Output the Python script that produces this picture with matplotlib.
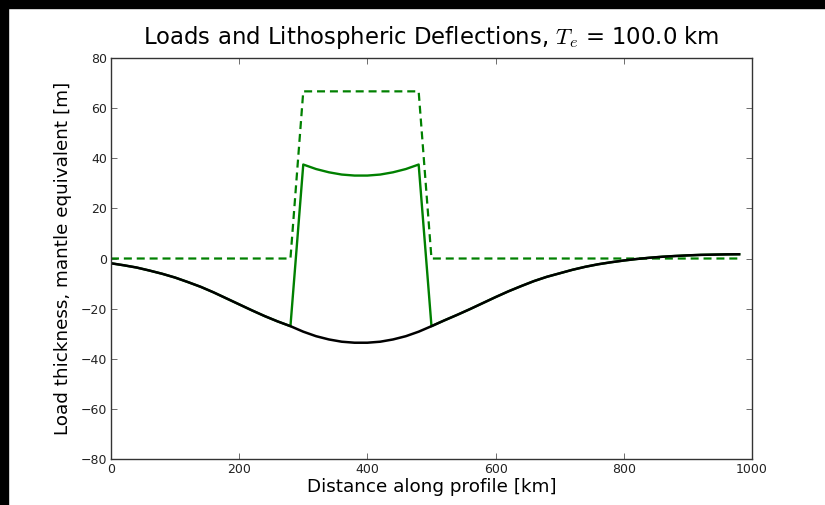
import numpy as np
import matplotlib
matplotlib.use("Agg")
import matplotlib.pyplot as plt
from matplotlib.patches import Rectangle

plt.rcParams['mathtext.fontset'] = 'cm'

# distance along profile [km]
distance = [0, 20, 40, 60, 80, 100, 120, 140, 160, 180,
            200, 220, 240, 260, 280, 300, 320, 340, 360, 380,
            400, 420, 440, 460, 480, 500, 520, 540, 560, 580,
            600, 620, 640, 660, 680, 700, 720, 740, 760, 780,
            800, 820, 840, 860, 880, 900, 920, 940, 960, 980]

# load thickness, mantle equivalent [m]
load = [0, 0, 0, 0, 0, 0, 0, 0, 0, 0,
        0, 0, 0, 0, 0, 66.7, 66.7, 66.7, 66.7, 66.7,
        66.7, 66.7, 66.7, 66.7, 66.7, 0, 0, 0, 0, 0,
        0, 0, 0, 0, 0, 0, 0, 0, 0, 0,
        0, 0, 0, 0, 0, 0, 0, 0, 0, 0]

# lithospheric deflection [m]
deflection = [-1.9, -2.7, -3.6, -4.8, -6.1, -7.6, -9.4, -11.3, -13.5, -15.9,
              -18.3, -20.7, -23.0, -25.1, -27.0, -29.2, -31.0, -32.3, -33.2, -33.6,
              -33.6, -33.2, -32.3, -31.0, -29.2, -27.0, -24.7, -22.5, -20.2, -17.8,
              -15.4, -13.1, -11.0, -9.0, -7.3, -5.9, -4.5, -3.3, -2.3, -1.5,
              -0.8, -0.2, 0.3, 0.7, 1.0, 1.25, 1.45, 1.55, 1.65, 1.7]

x = np.array(distance)
h = np.array(load)
w = np.array(deflection)

fig = plt.figure(figsize=(8.25, 5.05), dpi=100)
ax = fig.add_axes([0.1345, 0.0911, 0.777, 0.794])

ax.plot(x, h, color='g', lw=1.6, ls=(0, (3.6, 2.2)))
ax.plot(x, h + w, color='g', lw=1.7)
ax.plot(x, w, color='k', lw=1.8)

ax.set_xlim(0, 1000)
ax.set_ylim(-80, 80)
ax.set_xticks(np.arange(0, 1001, 200))
ax.set_yticks(np.arange(-80, 81, 20))
ax.tick_params(direction='in', top=True, right=True, length=4, width=0.6,
               color='#555555', labelsize=9, labelcolor='#222222', pad=3)
for s in ax.spines.values():
    s.set_linewidth(1.0)
    s.set_color('#333333')

ax.set_xlabel('Distance along profile [km]', fontsize=13.2, labelpad=1)
ax.set_ylabel('Load thickness, mantle equivalent [m]', fontsize=13.2, labelpad=6)
ax.set_title(r'Loads and Lithospheric Deflections, $T_e$ = 100.0 km', fontsize=16.4, pad=10)

# black frame bands at left and top edges
fig.patches.append(Rectangle((0, 0), 8 / 825, 1, transform=fig.transFigure,
                             color='k', zorder=10))
fig.patches.append(Rectangle((0, 1 - 8 / 505), 1, 8 / 505, transform=fig.transFigure,
                             color='k', zorder=10))

fig.savefig('out.png', dpi=100)
